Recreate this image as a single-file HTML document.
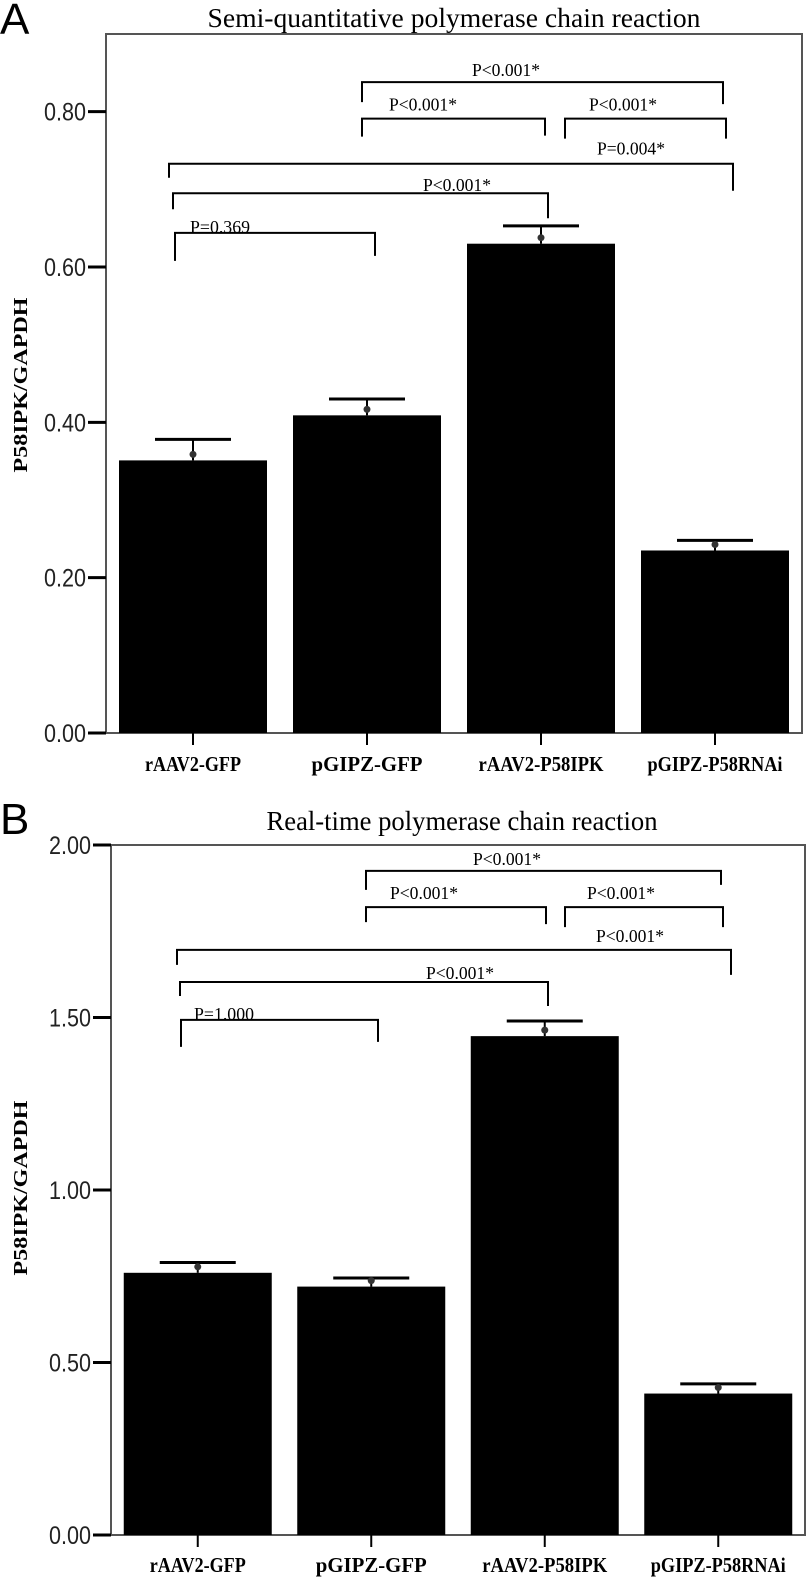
<!DOCTYPE html>
<html><head><meta charset="utf-8"><style>
html,body{margin:0;padding:0;background:#fff;}
svg{display:block;}
</style></head><body>
<svg id="fig" width="810" height="1578" viewBox="0 0 810 1578" xmlns="http://www.w3.org/2000/svg"></svg>
<script>
const categories = ["rAAV2-GFP","pGIPZ-GFP","rAAV2-P58IPK","pGIPZ-P58RNAi"];
const valuesA = [0.351, 0.409, 0.630, 0.235];
const errTopA = [0.378, 0.430, 0.653, 0.248];
const ticksA = [0, 0.2, 0.4, 0.6, 0.8];
const tickLabelsA = ["0.00","0.20","0.40","0.60","0.80"];
const valuesB = [0.76, 0.72, 1.446, 0.41];
const errTopB = [0.79, 0.745, 1.49, 0.438];
const ticksB = [0, 0.5, 1.0, 1.5, 2.0];
const tickLabelsB = ["0.00","0.50","1.00","1.50","2.00"];
const pLabelsA = ["P<0.001*","P<0.001*","P<0.001*","P=0.004*","P<0.001*","P=0.369"];
const pLabelsB = ["P<0.001*","P<0.001*","P<0.001*","P<0.001*","P<0.001*","P=1.000"];

const NS = "http://www.w3.org/2000/svg";
const svg = document.getElementById('fig');
function mk(tag, attrs, parent){
  const e = document.createElementNS(NS, tag);
  for (const k in attrs) e.setAttribute(k, attrs[k]);
  (parent||svg).appendChild(e);
  return e;
}

function panel(cfg){
  const g = mk('g', {});
  
  
  const y = v => cfg.y0 - (v / cfg.max) * (cfg.y0 - cfg.yTop);
  const L = mk('text', {x: cfg.letterX, y: cfg.letterY, 'font-family':'Liberation Sans, sans-serif', 'font-size':44, fill:'#000'}, g);
  L.textContent = cfg.letter;
  
  
  const T = mk('text', {x: cfg.titleX, y: cfg.titleY, 'text-anchor':'middle', 'font-family':'Liberation Serif, serif', 'font-size':27, textLength: cfg.titleW, lengthAdjust:'spacingAndGlyphs', fill:'#000'}, g);
  T.textContent = cfg.title;
  
  
  const F = mk('rect', {x: cfg.left, y: cfg.yTop, width: cfg.right - cfg.left, height: cfg.y0 - cfg.yTop, fill:'none', stroke:'#555', 'stroke-width':2}, g);
  
  
  cfg.ticks.forEach((t, i) => {
    const ln = mk('line', {x1: cfg.left - 18, x2: cfg.left, y1: y(t), y2: y(t), stroke:'#000', 'stroke-width':3}, g);
    
    
    const tx = mk('text', {x: cfg.left - 20, y: y(t) + 9, 'text-anchor':'end', 'font-family':'Liberation Sans, sans-serif', 'font-size':25, textLength:42, lengthAdjust:'spacingAndGlyphs', fill:'#222'}, g);
    tx.textContent = cfg.tickLabels[i];
    
    
  });
  const YT = mk('text', {x: 0, y: 0, transform: 'translate(27,' + cfg.ytitleY + ') rotate(-90)', 'text-anchor':'middle', 'font-family':'Liberation Serif, serif', 'font-weight':'bold', 'font-size':20, textLength:175, lengthAdjust:'spacingAndGlyphs', fill:'#000'}, g);
  YT.textContent = 'P58IPK/GAPDH';
  
  
  const step = (cfg.right - cfg.left) / categories.length;
  const bw = 148;
  categories.forEach((c, i) => {
    const cx = cfg.left + step * (i + 0.5);
    const b = mk('rect', {x: cx - bw/2, y: y(cfg.values[i]), width: bw, height: cfg.y0 - y(cfg.values[i]), fill:'#000'}, g);
    
    
    const e1 = mk('line', {x1: cx, x2: cx, y1: y(cfg.values[i]), y2: y(cfg.errTop[i]), stroke:'#000', 'stroke-width':2}, g);
    
    
    const e2 = mk('line', {x1: cx - 38, x2: cx + 38, y1: y(cfg.errTop[i]), y2: y(cfg.errTop[i]), stroke:'#000', 'stroke-width':3}, g);
    
    
    const dy = y(cfg.values[i]) - 6;
    const d = mk('circle', {cx: cx, cy: dy, r: 3.5, fill:'#333'}, g);
    
    
    const xt = mk('line', {x1: cx, x2: cx, y1: cfg.y0, y2: cfg.y0 + 12, stroke:'#000', 'stroke-width':2}, g);
    
    
    const cl = mk('text', {x: cx, y: cfg.catY, 'text-anchor':'middle', 'font-family':'Liberation Serif, serif', 'font-weight':'bold', 'font-size':21, textLength: cfg.catW[i], lengthAdjust:'spacingAndGlyphs', fill:'#000'}, g);
    cl.textContent = c;
    
    
  });
  cfg.brackets.forEach((br, i) => {
    const ly = y(br.v);
    const p = mk('path', {d: 'M' + br.x1 + ' ' + (ly + br.l1) + ' V' + ly + ' H' + br.x2 + ' V' + (ly + br.l2), fill:'none', stroke:'#000', 'stroke-width':2}, g);
    
    
    const t = mk('text', {x: br.tx, y: ly + br.ty, 'text-anchor': br.anchor || 'middle', 'font-family':'Liberation Serif, serif', 'font-size':18, textLength: cfg.pLabels[i].length > 7 ? 68 : 60, lengthAdjust:'spacingAndGlyphs', fill:'#000'}, g);
    t.textContent = cfg.pLabels[i];
    
    
  });
}

panel({
  id:'panel-a', letter:'A', letterX:0, letterY:34, title:'Semi-quantitative polymerase chain reaction',
  titleX:454, titleY:27, titleW:493, left:106, right:802, yTop:34, y0:733, max:0.9,
  ticks:ticksA, tickLabels:tickLabelsA, values:valuesA, errTop:errTopA, ytitleY:385,
  catY:771, catW:[96,111,125,135], pLabels:pLabelsA,
  brackets:[
    {v:0.838, x1:362, x2:723, l1:20, l2:22, tx:506, ty:-6},
    {v:0.791, x1:362, x2:545, l1:18, l2:17, tx:423, ty:-8},
    {v:0.791, x1:565, x2:726, l1:20, l2:20, tx:623, ty:-8},
    {v:0.733, x1:169, x2:733, l1:14, l2:27, tx:631, ty:-9},
    {v:0.695, x1:173, x2:548, l1:16, l2:25, tx:457, ty:-2},
    {v:0.644, x1:175, x2:375, l1:28, l2:23, tx:190, ty:0, anchor:'start'}
  ]
});
panel({
  id:'panel-b', letter:'B', letterX:0, letterY:834, title:'Real-time polymerase chain reaction',
  titleX:462, titleY:830, titleW:391, left:111, right:805, yTop:845, y0:1535, max:2.0,
  ticks:ticksB, tickLabels:tickLabelsB, values:valuesB, errTop:errTopB, ytitleY:1188,
  catY:1572, catW:[96,111,125,135], pLabels:pLabelsB,
  brackets:[
    {v:1.925, x1:366, x2:721, l1:19, l2:14, tx:507, ty:-6},
    {v:1.820, x1:366, x2:546, l1:15, l2:17, tx:424, ty:-8},
    {v:1.820, x1:565, x2:723, l1:20, l2:20, tx:621, ty:-8},
    {v:1.696, x1:177, x2:731, l1:15, l2:25, tx:630, ty:-8},
    {v:1.603, x1:180, x2:548, l1:14, l2:24, tx:460, ty:-3},
    {v:1.493, x1:181, x2:378, l1:27, l2:22, tx:194, ty:0, anchor:'start'}
  ]
});
</script>
</body></html>
